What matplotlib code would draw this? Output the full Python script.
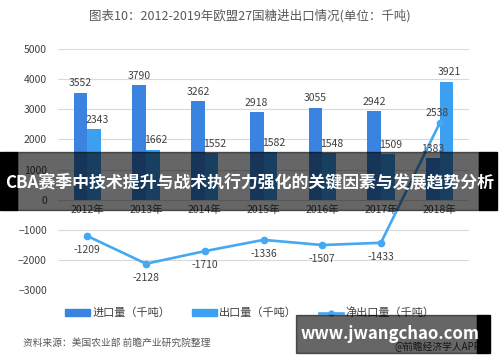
import matplotlib
matplotlib.use("Agg")
import matplotlib.pyplot as plt
from matplotlib.patches import Rectangle
from matplotlib.lines import Line2D
import numpy as np

plt.rcParams['font.family'] = ['Noto Sans CJK SC', 'DejaVu Sans']

# === Data ===
years = ['2012年', '2013年', '2014年', '2015年', '2016年', '2017年', '2018年']
imports = [3552, 3790, 3262, 2918, 3055, 2942, 1383]
exports = [2343, 1662, 1552, 1582, 1548, 1509, 3921]
net_exports = [-1209, -2128, -1710, -1336, -1507, -1433, 2538]

c_imp = '#3b83e0'
c_exp = '#3d9ff0'
c_net = '#45a8f2'
txt = '#404040'

W, H = 500, 362
fig = plt.figure(figsize=(5, 3.62), dpi=100)
ax = fig.add_axes([58 / W, 1 - 290 / H, (469 - 58) / W, (290 - 49) / H])

x = np.arange(len(years))
bw = 0.233
ax.bar(x - bw / 2, imports, bw, color=c_imp, zorder=2)
ax.bar(x + bw / 2, exports, bw, color=c_exp, zorder=2)
ax.plot(x, net_exports, color=c_net, lw=1.9, marker='o', ms=4.5, zorder=3)

for i in range(len(years)):
    ax.annotate(str(imports[i]), (x[i] - bw / 2, imports[i]), xytext=(0, 3),
                textcoords='offset points', ha='center', va='bottom', fontsize=7.5, color=txt)
    ax.annotate(str(exports[i]), (x[i] + bw / 2 + 0.05, exports[i]), xytext=(0, 3),
                textcoords='offset points', ha='center', va='bottom', fontsize=7.5, color=txt)
    if net_exports[i] < 0:
        ax.annotate(str(net_exports[i]), (x[i], net_exports[i]), xytext=(0, -6.5),
                    textcoords='offset points', ha='center', va='top', fontsize=7.5, color=txt)
    else:
        ax.annotate(str(net_exports[i]), (x[i], net_exports[i]), xytext=(-2, 4),
                    textcoords='offset points', ha='center', va='bottom', fontsize=7.5, color=txt)

ax.set_xlim(-0.5, len(years) - 0.5)
ax.set_ylim(-3000, 5000)
ax.set_yticks(range(-3000, 5001, 1000))
ax.set_xticks(x)
ax.set_xticklabels(years)
ax.spines['bottom'].set_position(('data', 0))
for s in ax.spines.values():
    s.set_visible(False)
ax.tick_params(axis='both', length=0, labelsize=7.5, colors=txt)
ax.tick_params(axis='x', pad=4)
ax.tick_params(axis='y', pad=8)
ax.grid(axis='y', color='#d9d9d9', lw=0.8, zorder=0)
ax.set_axisbelow(True)

# title
fig.text(0.5, 1 - 16 / H, '图表10：2012-2019年欧盟27国糖进出口情况(单位：千吨)',
         ha='center', va='center', fontsize=9, color='#595959')

# legend
handles = [Rectangle((0, 0), 1, 1, color=c_imp),
           Rectangle((0, 0), 1, 1, color=c_exp),
           Line2D([], [], color=c_net, lw=1.9, marker='o', ms=3.5)]
fig.legend(handles, ['进口量（千吨）', '出口量（千吨）', '净出口量（千吨）'],
           loc='center', bbox_to_anchor=(0.5, 1 - 313 / H), ncol=3, frameon=False,
           fontsize=8, handlelength=2.2, handleheight=0.5, handletextpad=0.2,
           columnspacing=2.0, labelcolor=txt)

# source
fig.text(23 / W, 1 - 343 / H, '资料来源：美国农业部 前瞻产业研究院整理',
         ha='left', va='center', fontsize=7, color='#595959')
fig.text(480 / W, 1 - 347 / H, '@前瞻经济学人APP', ha='right', va='center',
         fontsize=7, color='#333333')

# overlay banners
fig.patches.append(Rectangle((0, 1 - 210 / H), 17 / W, 58 / H, transform=fig.transFigure,
                             color='black', zorder=10))
fig.patches.append(Rectangle((17 / W, 1 - 210 / H), 462 / W, 58 / H, transform=fig.transFigure,
                             color='black', alpha=0.6, zorder=10))
fig.patches.append(Rectangle((479 / W, 1 - 210 / H), 18 / W, 58 / H, transform=fig.transFigure,
                             color='black', zorder=10))
fig.text(0.5, 1 - 183 / H, 'CBA赛季中技术提升与战术执行力强化的关键因素与发展趋势分析',
         ha='center', va='center', fontsize=12.2, fontweight='bold', color='white', zorder=11)

fig.patches.append(Rectangle((296 / W, 1 - 353 / H), 181 / W, 38 / H, transform=fig.transFigure,
                             color='black', alpha=0.6, zorder=10))
fig.patches.append(Rectangle((477 / W, 1 - 353 / H), 13 / W, 38 / H, transform=fig.transFigure,
                             color='black', zorder=10))
fig.text(390 / W, 1 - 334 / H, 'www.jwangchao.com', ha='center', va='center',
         fontsize=12, fontweight='bold', color='white', zorder=11)

fig.savefig('out.png', dpi=100)
